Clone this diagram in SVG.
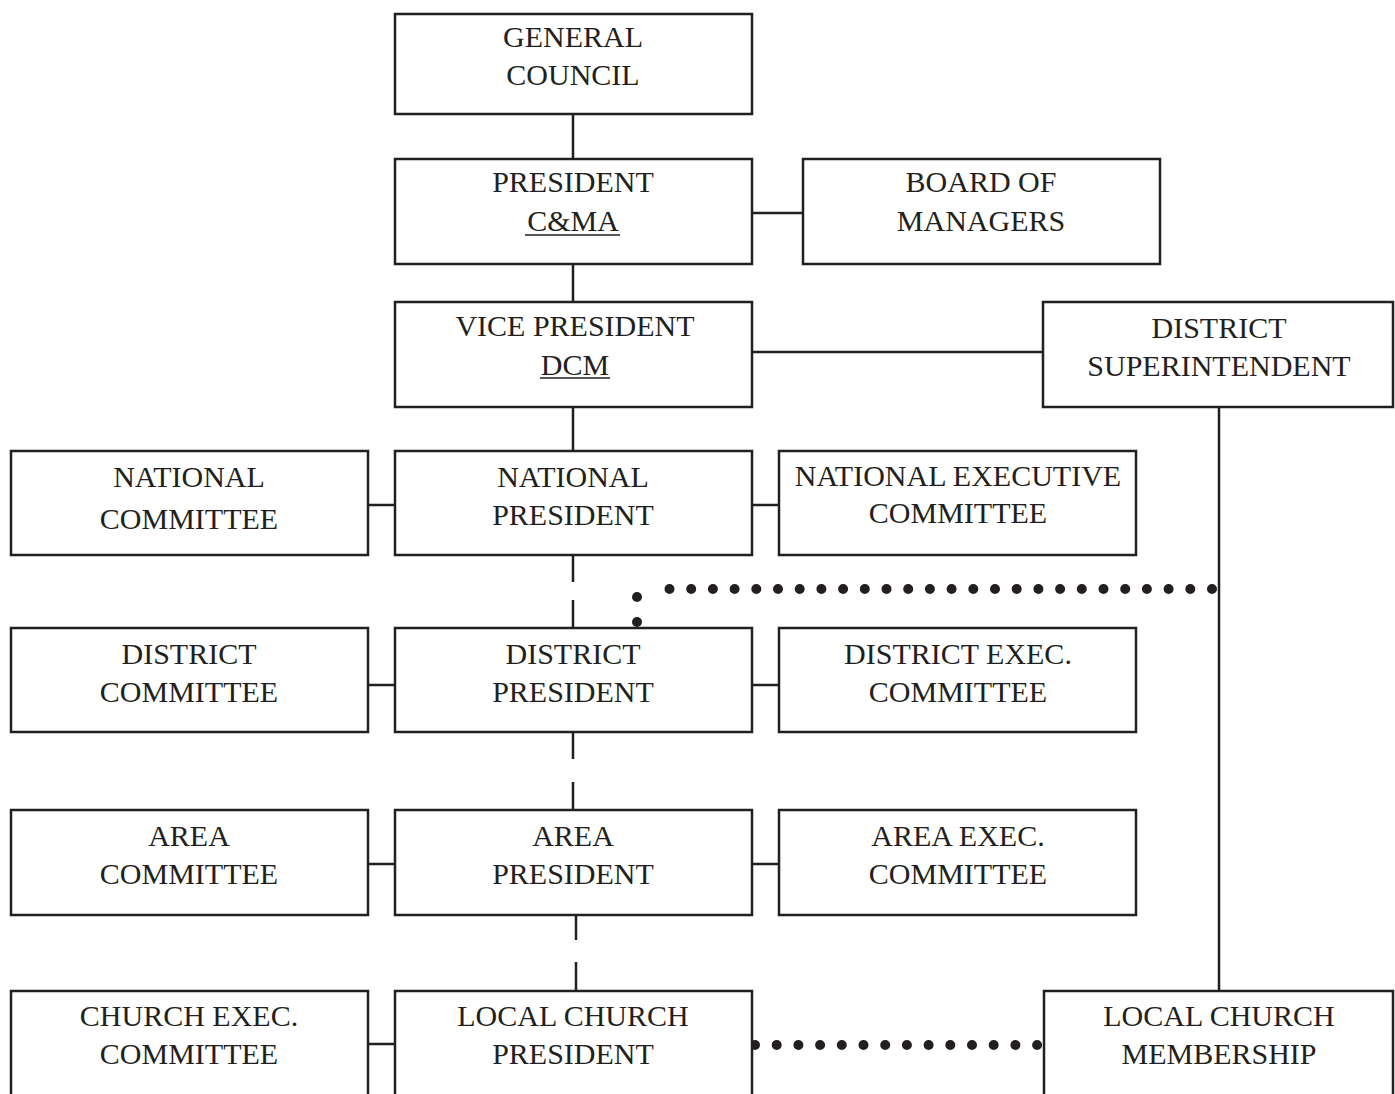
<svg xmlns="http://www.w3.org/2000/svg" width="1395" height="1094" viewBox="0 0 1395 1094">
<style>
.box{fill:#fff;stroke:#231f20;stroke-width:2.5}
.t{font-family:"Liberation Serif","Times New Roman",serif;font-size:30px;fill:#231f20;text-anchor:middle}
.ln{stroke:#231f20;stroke-width:2.5;fill:none}
.dot{stroke:#231f20;stroke-width:10;stroke-linecap:round;fill:none;stroke-dasharray:0 21.7}
.d{fill:#231f20}
</style>
<rect width="1395" height="1094" fill="#fff"/>
<g id="connectors">
<line class="ln" x1="573" y1="114" x2="573" y2="159"/>
<line class="ln" x1="573" y1="264" x2="573" y2="302"/>
<line class="ln" x1="752" y1="213" x2="803" y2="213"/>
<line class="ln" x1="752" y1="352" x2="1043" y2="352"/>
<line class="ln" x1="573" y1="407" x2="573" y2="451"/>
<line class="ln" x1="368" y1="505" x2="395" y2="505"/>
<line class="ln" x1="752" y1="505" x2="779" y2="505"/>
<line class="ln" x1="368" y1="685" x2="395" y2="685"/>
<line class="ln" x1="752" y1="685" x2="779" y2="685"/>
<line class="ln" x1="368" y1="864" x2="395" y2="864"/>
<line class="ln" x1="752" y1="864" x2="779" y2="864"/>
<line class="ln" x1="368" y1="1044" x2="395" y2="1044"/>
<line class="ln" x1="573" y1="555" x2="573" y2="582"/>
<line class="ln" x1="573" y1="600" x2="573" y2="628"/>
<line class="ln" x1="573" y1="732" x2="573" y2="759"/>
<line class="ln" x1="573" y1="782" x2="573" y2="810"/>
<line class="ln" x1="576" y1="915" x2="576" y2="940"/>
<line class="ln" x1="576" y1="962" x2="576" y2="991"/>
<line class="ln" x1="1219" y1="407" x2="1219" y2="991"/>
<path class="dot" d="M1212 589 L648 589"/>
<circle class="d" cx="637" cy="597" r="5"/>
<circle class="d" cx="637" cy="622" r="5"/>
<path class="dot" d="M755 1045 L1040 1045"/>
</g>
<g id="general-council">
<rect class="box" x="395" y="14" width="357" height="100"/>
<text class="t" x="573" y="47">GENERAL</text>
<text class="t" x="573" y="85">COUNCIL</text>
</g>
<g id="president-cma">
<rect class="box" x="395" y="159" width="357" height="105"/>
<text class="t" x="573" y="192">PRESIDENT</text>
<text class="t" x="573" y="231">C&amp;MA</text>
<line class="ln" x1="525" y1="235" x2="620" y2="235" style="stroke-width:1.5"/>
</g>
<g id="board-of-managers">
<rect class="box" x="803" y="159" width="357" height="105"/>
<text class="t" x="981" y="192">BOARD OF</text>
<text class="t" x="981" y="231">MANAGERS</text>
</g>
<g id="vice-president">
<rect class="box" x="395" y="302" width="357" height="105"/>
<text class="t" x="575" y="336">VICE PRESIDENT</text>
<text class="t" x="575" y="375">DCM</text>
<line class="ln" x1="540" y1="378" x2="610" y2="378" style="stroke-width:1.5"/>
</g>
<g id="district-superintendent">
<rect class="box" x="1043" y="302" width="350" height="105"/>
<text class="t" x="1219" y="338">DISTRICT</text>
<text class="t" x="1219" y="376">SUPERINTENDENT</text>
</g>
<g id="national-committee">
<rect class="box" x="11" y="451" width="357" height="104"/>
<text class="t" x="189" y="487">NATIONAL</text>
<text class="t" x="189" y="529">COMMITTEE</text>
</g>
<g id="national-president">
<rect class="box" x="395" y="451" width="357" height="104"/>
<text class="t" x="573" y="487">NATIONAL</text>
<text class="t" x="573" y="525">PRESIDENT</text>
</g>
<g id="national-executive-committee">
<rect class="box" x="779" y="451" width="357" height="104"/>
<text class="t" x="958" y="486">NATIONAL EXECUTIVE</text>
<text class="t" x="958" y="523">COMMITTEE</text>
</g>
<g id="district-committee">
<rect class="box" x="11" y="628" width="357" height="104"/>
<text class="t" x="189" y="664">DISTRICT</text>
<text class="t" x="189" y="702">COMMITTEE</text>
</g>
<g id="district-president">
<rect class="box" x="395" y="628" width="357" height="104"/>
<text class="t" x="573" y="664">DISTRICT</text>
<text class="t" x="573" y="702">PRESIDENT</text>
</g>
<g id="district-exec-committee">
<rect class="box" x="779" y="628" width="357" height="104"/>
<text class="t" x="958" y="664">DISTRICT EXEC.</text>
<text class="t" x="958" y="702">COMMITTEE</text>
</g>
<g id="area-committee">
<rect class="box" x="11" y="810" width="357" height="105"/>
<text class="t" x="189" y="846">AREA</text>
<text class="t" x="189" y="884">COMMITTEE</text>
</g>
<g id="area-president">
<rect class="box" x="395" y="810" width="357" height="105"/>
<text class="t" x="573" y="846">AREA</text>
<text class="t" x="573" y="884">PRESIDENT</text>
</g>
<g id="area-exec-committee">
<rect class="box" x="779" y="810" width="357" height="105"/>
<text class="t" x="958" y="846">AREA EXEC.</text>
<text class="t" x="958" y="884">COMMITTEE</text>
</g>
<g id="church-exec-committee">
<rect class="box" x="11" y="991" width="357" height="120"/>
<text class="t" x="189" y="1026">CHURCH EXEC.</text>
<text class="t" x="189" y="1064">COMMITTEE</text>
</g>
<g id="local-church-president">
<rect class="box" x="395" y="991" width="357" height="120"/>
<text class="t" x="573" y="1026">LOCAL CHURCH</text>
<text class="t" x="573" y="1064">PRESIDENT</text>
</g>
<g id="local-church-membership">
<rect class="box" x="1044" y="991" width="349" height="120"/>
<text class="t" x="1219" y="1026">LOCAL CHURCH</text>
<text class="t" x="1219" y="1064">MEMBERSHIP</text>
</g>
</svg>
